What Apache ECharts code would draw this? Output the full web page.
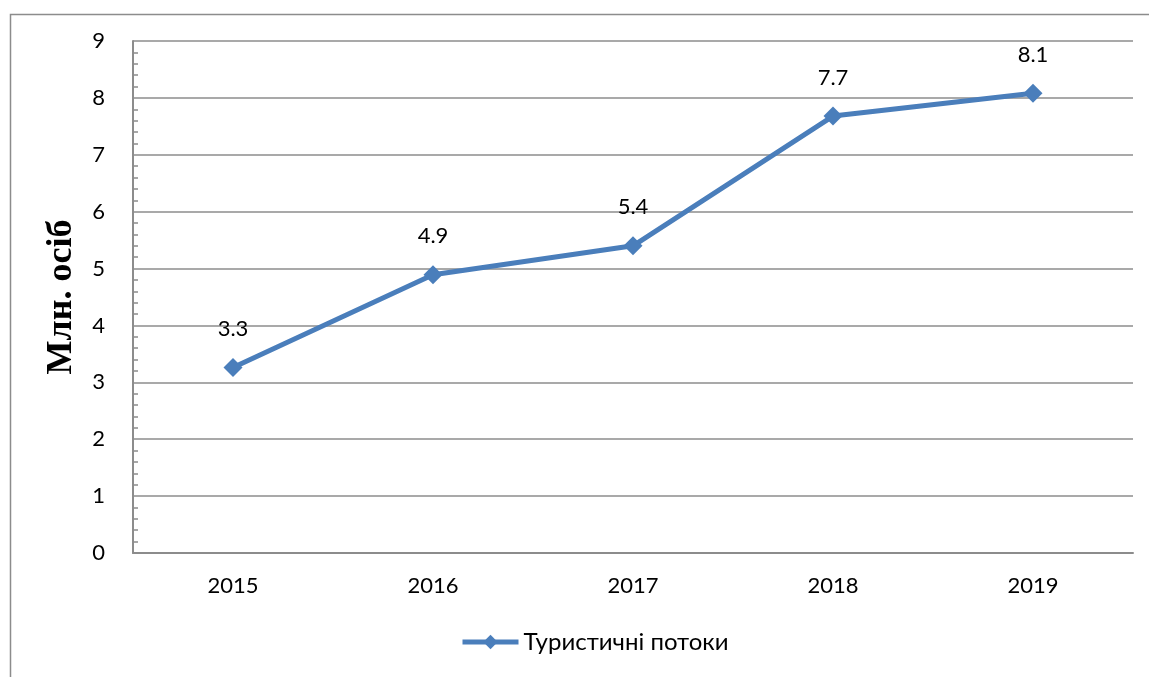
<!DOCTYPE html>
<html>
<head>
<meta charset="utf-8">
<script src="https://cdn.jsdelivr.net/npm/echarts@6/dist/echarts.min.js"></script>
<style>html,body{margin:0;padding:0;background:#fff}#c{width:1149px;height:677px}</style>
</head>
<body>
<div id="c"></div>
<script>
const years = ['2015', '2016', '2017', '2018', '2019'];
const flows = [3.26, 4.89, 5.4, 7.68, 8.08];
const seriesName = 'Туристичні потоки';
const yTitle = 'Млн. осіб';

const chart = echarts.init(document.getElementById('c'));
const font = 'Lato, "Open Sans", sans-serif';
chart.setOption({
  animation: false,
  backgroundColor: '#fff',
  graphic: [{
    type: 'rect', left: 8, top: 12,
    shape: { width: 1200, height: 700 },
    style: { fill: 'none', stroke: '#8c8c8c', lineWidth: 1.5 }
  }],
  grid: { left: 133, right: 16, top: 41, bottom: 124 },
  legend: {
    bottom: 18, left: 455,
    itemWidth: 56, itemHeight: 18, itemGap: 6,
    textStyle: { fontFamily: font, fontSize: 24, color: '#000' },
    lineStyle: { width: 5 },
    data: [seriesName]
  },
  xAxis: {
    type: 'category', data: years, boundaryGap: true,
    axisLine: { lineStyle: { color: '#8c8c8c', width: 2 } },
    axisTick: { show: false },
    axisLabel: { fontFamily: font, fontSize: 22, color: '#000', margin: 22 }
  },
  yAxis: {
    type: 'value', min: 0, max: 9, interval: 1,
    name: yTitle, nameLocation: 'middle', nameGap: 53, nameRotate: 90,
    nameTextStyle: { fontFamily: '"Liberation Serif", serif', fontWeight: 'bold', fontSize: 36, color: '#000' },
    axisLine: { show: true, lineStyle: { color: '#8c8c8c', width: 2 } },
    axisTick: { show: false, inside: true },
    minorTick: { show: true, splitNumber: 5, length: 5, lineStyle: { color: '#8c8c8c', width: 1.5 } },
    axisLabel: { fontFamily: font, fontSize: 22, color: '#000', margin: 28 },
    splitLine: { lineStyle: { color: '#8c8c8c', width: 1.5 } }
  },
  series: [{
    name: seriesName, type: 'line', data: flows,
    symbol: 'diamond', symbolSize: 19,
    lineStyle: { color: '#4a7ebb', width: 5 },
    itemStyle: { color: '#4a7ebb' },
    label: {
      show: true, position: 'top', distance: 18,
      fontFamily: font, fontSize: 22, color: '#000',
      formatter: p => p.value.toFixed(1)
    }
  }]
});
</script>
</body>
</html>
